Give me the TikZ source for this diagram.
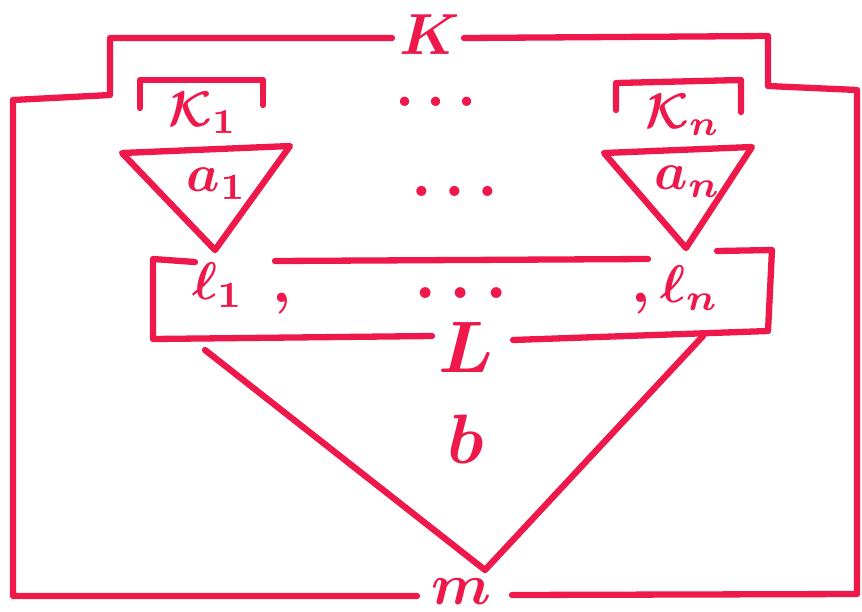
\documentclass[tikz,border=0pt]{standalone}
\definecolor{ink}{RGB}{238,24,74}
\begin{document}
\boldmath
\begin{tikzpicture}[x=1pt,y=-1pt,
  pen/.style={draw=ink, line width=6.3pt, line cap=round, line join=round},
  lab/.style={text=ink, inner sep=0pt, scale=#1},
  lab/.default=6]
\useasboundingbox (0,0) rectangle (862,611);
\fill[white] (0,0) rectangle (862,611);
% outer frame with the K step
\coordinate (o1) at (417,596); \coordinate (o2) at (13,596);
\coordinate (o3) at (13,100); \coordinate (o4) at (110,95);
\coordinate (o5) at (110,38); \coordinate (o6) at (392,38);
\coordinate (o7) at (464,38); \coordinate (o8) at (768,36);
\coordinate (o9) at (768,86); \coordinate (o10) at (857,90);
\coordinate (o11) at (857,594); \coordinate (o12) at (512,595);
\draw[pen] (o1) -- (o2) -- (o3) -- (o4) -- (o5) -- (o6);
\draw[pen] (o7) -- (o8) -- (o9) -- (o10) -- (o11) -- (o12);
\node[lab=5.8] (K) at (430,35) {$K$};
\node[lab=5.8] (m) at (461,592) {$m$};
% K_1 and K_n brackets
\coordinate (k1a) at (140,108); \coordinate (k1b) at (140,80);
\coordinate (k1c) at (263,80); \coordinate (k1d) at (263,105);
\draw[pen] (k1a) -- (k1b) -- (k1c) -- (k1d);
\coordinate (kna) at (616,110); \coordinate (knb) at (616,83);
\coordinate (knc) at (741,80); \coordinate (knd) at (741,112);
\draw[pen] (kna) -- (knb) -- (knc) -- (knd);
\node[lab=5] (K1) at (203,113) {$\mathcal{K}_1$};
\node[lab=5] (Kn) at (683,115) {$\mathcal{K}_n$};
\node[lab=6] (d1) at (436,102) {$\ldots$};
% triangles a_1, a_n
\coordinate (t1a) at (122,153); \coordinate (t1b) at (290,146); \coordinate (t1c) at (215,250);
\draw[pen] (t1a) -- (t1b) -- (t1c) -- cycle;
\coordinate (tna) at (604,153); \coordinate (tnb) at (752,147); \coordinate (tnc) at (686,248);
\draw[pen] (tna) -- (tnb) -- (tnc) -- cycle;
\node[lab=5.3] (a1) at (217,184) {$a_1$};
\node[lab=5.3] (an) at (688,182) {$a_n$};
\node[lab=6.5] (d2) at (455,191) {$\ldots$};
% L box
\coordinate (l1) at (195,262); \coordinate (l2) at (153,259);
\coordinate (l3) at (153,339); \coordinate (l4) at (432,336);
\coordinate (l5) at (513,340); \coordinate (l6) at (768,331);
\coordinate (l7) at (772,250); \coordinate (l8) at (717,251);
\coordinate (l9) at (275,261); \coordinate (l10) at (648,259);
\draw[pen] (l1) -- (l2) -- (l3) -- (l4);
\draw[pen] (l5) -- (l6) -- (l7) -- (l8);
\draw[pen] (l9) -- (l10);
\node[lab=5.3] (ell1) at (218,285) {$\ell_1$};
\node[lab=6] (c1) at (282,304) {$,$};
\node[lab=7] (d3) at (461,293) {$\ldots$};
\node[lab=6] (c2) at (641,304) {$,$};
\node[lab=5.3] (elln) at (690,288) {$\ell_n$};
\node[lab=7.3] (L) at (466,347) {$L$};
% triangle b
\coordinate (b1) at (205,350); \coordinate (b2) at (485,570); \coordinate (b3) at (703,336);
\draw[pen] (b1) -- (b2) -- (b3);
\node[lab=7] (b) at (466,439) {$b$};
\end{tikzpicture}
\end{document}
